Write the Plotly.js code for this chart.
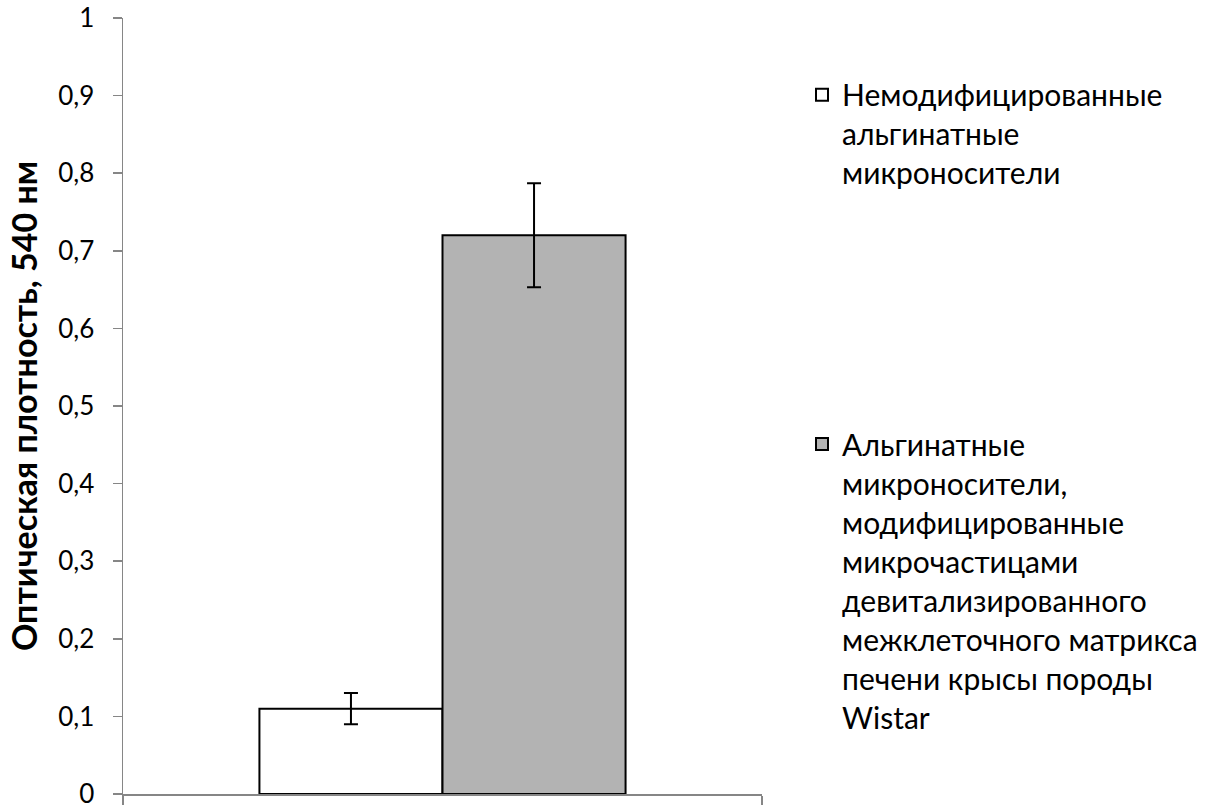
<!DOCTYPE html>
<html>
<head>
<meta charset="utf-8">
<script src="https://cdn.plot.ly/plotly-3.0.1.min.js"></script>
<style>
  html, body { margin: 0; padding: 0; background: #ffffff; }
  #chart { width: 1228px; height: 809px; }
</style>
</head>
<body>
<div id="chart"></div>
<script>
// Optical density at 540 nm for two microcarrier types (mean ± error)
const seriesNames = [
  'Немодифицированные<br>альгинатные<br>микроносители',
  'Альгинатные<br>микроносители,<br>модифицированные<br>микрочастицами<br>девитализированного<br>межклеточного матрикса<br>печени крысы породы<br>Wistar'
];
const seriesValues = [0.11, 0.72];
const seriesErrors = [0.02, 0.067];
const seriesFills = ['#ffffff', '#b3b3b3'];
const yTickValues = [0, 0.1, 0.2, 0.3, 0.4, 0.5, 0.6, 0.7, 0.8, 0.9, 1];
const yAxisTitle = 'Оптическая плотность, 540 нм';

const FONT = 'Lato, "Open Sans", "Noto Sans", sans-serif';
const legendIds = ['legend', 'legend2'];

const traces = seriesValues.map((v, i) => ({
  type: 'bar',
  x: [0],
  y: [v],
  name: seriesNames[i],
  legend: legendIds[i],
  marker: { color: seriesFills[i], line: { color: '#000000', width: 2 } },
  error_y: { type: 'data', array: [seriesErrors[i]], visible: true,
             color: '#000000', thickness: 2, width: 7 },
  hoverinfo: 'skip'
}));

const legendBase = {
  xanchor: 'left', yanchor: 'top', valign: 'top',
  bgcolor: 'rgba(0,0,0,0)', borderwidth: 0,
  font: { family: FONT, size: 30, color: '#000000' }
};

const layout = {
  width: 1228,
  height: 809,
  margin: { l: 123, r: 466, t: 18, b: 14.5 },
  paper_bgcolor: '#ffffff',
  plot_bgcolor: '#ffffff',
  separators: ', ',
  barmode: 'group',
  bargap: 0.427,
  bargroupgap: 0,
  showlegend: true,
  font: { family: FONT, color: '#000000' },
  xaxis: {
    range: [-0.5, 0.5],
    showgrid: false,
    zeroline: false,
    showline: true,
    linecolor: '#868686',
    linewidth: 1.5,
    ticks: 'outside',
    ticklen: 9,
    tickwidth: 1.5,
    tickcolor: '#868686',
    tickvals: [-0.5, 0.5],
    ticktext: ['', ''],
    fixedrange: true
  },
  yaxis: {
    range: [0, 1],
    tickvals: yTickValues,
    showgrid: false,
    zeroline: false,
    showline: true,
    linecolor: '#868686',
    linewidth: 1.5,
    ticks: 'outside',
    ticklen: 9,
    tickwidth: 1.5,
    tickcolor: '#868686',
    ticklabelstandoff: 13,
    ticklabeloverflow: 'allow',
    tickfont: { family: FONT, size: 26, color: '#000000' },
    title: {
      text: '<b>' + yAxisTitle + '</b>',
      font: { family: FONT, size: 34, color: '#000000' },
      standoff: 10
    },
    fixedrange: true
  },
  legend: Object.assign({}, legendBase, { x: 1.0626, y: 0.9346 }),
  legend2: Object.assign({}, legendBase, { x: 1.0626, y: 0.4846 })
};

Plotly.newPlot('chart', traces, layout, { displayModeBar: false, staticPlot: true });
</script>
</body>
</html>
